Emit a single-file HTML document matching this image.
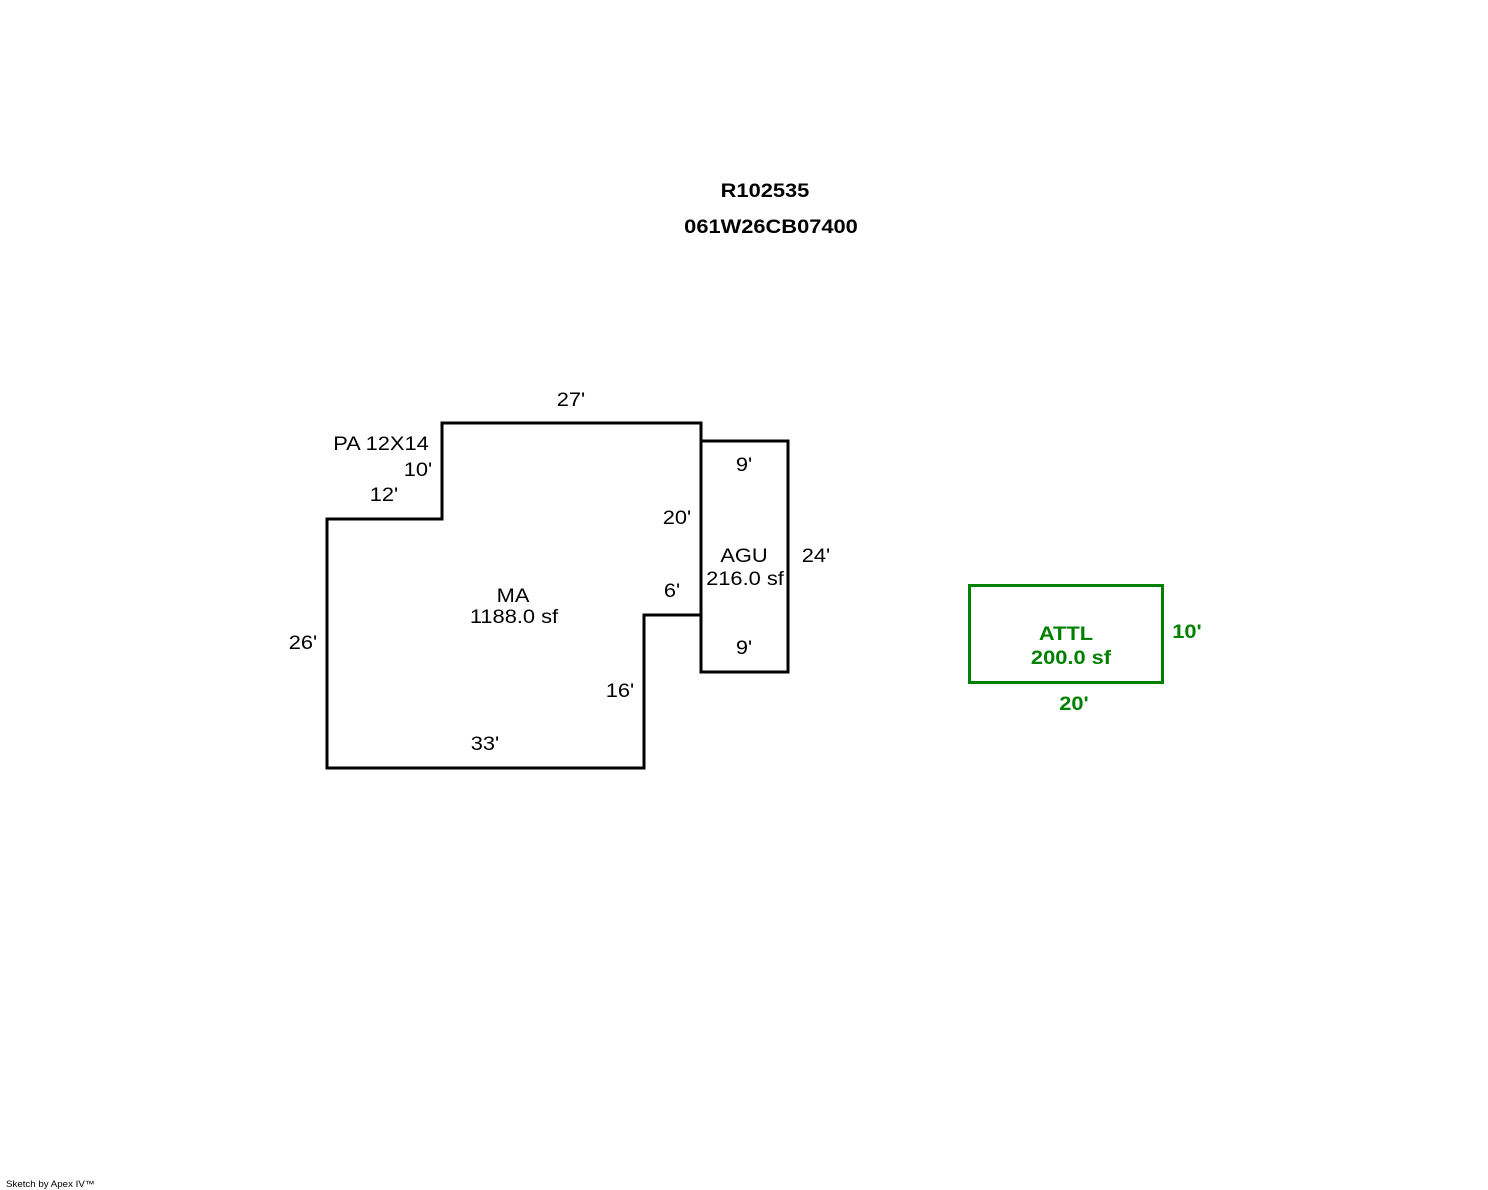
<!DOCTYPE html>
<html><head><meta charset="utf-8"><style>
html,body{margin:0;padding:0;background:#fff;}
svg{display:block;}
text{font-family:"Liberation Sans",Arial,sans-serif;}
</style></head><body>
<svg width="1488" height="1190" viewBox="0 0 1488 1190" xmlns="http://www.w3.org/2000/svg">
<rect width="1488" height="1190" fill="#fff"/>
<polygon points="327,519 442,519 442,423 701,423 701,615 644,615 644,768 327,768" fill="none" stroke="#000" stroke-width="3"/>
<rect x="701" y="441" width="87" height="231" fill="none" stroke="#000" stroke-width="3"/>
<rect x="969.5" y="585.5" width="193" height="97" fill="none" stroke="#008000" stroke-width="3"/>
<g font-size="19" font-weight="bold" fill="#000" text-anchor="middle">
<text transform="translate(765,197) scale(1.15,1)">R102535</text>
<text transform="translate(771,233) scale(1.15,1)">061W26CB07400</text>
</g>
<g font-size="19" fill="#000" text-anchor="middle">
<text transform="translate(571,406) scale(1.15,1)">27'</text>
<text transform="translate(381,450) scale(1.15,1)">PA 12X14</text>
<text transform="translate(418,476) scale(1.15,1)">10'</text>
<text transform="translate(384,501) scale(1.15,1)">12'</text>
<text transform="translate(677,524) scale(1.15,1)">20'</text>
<text transform="translate(744,471) scale(1.15,1)">9'</text>
<text transform="translate(744,562) scale(1.15,1)">AGU</text>
<text transform="translate(745,585) scale(1.15,1)">216.0 sf</text>
<text transform="translate(816,562) scale(1.15,1)">24'</text>
<text transform="translate(672,597) scale(1.15,1)">6'</text>
<text transform="translate(744,654) scale(1.15,1)">9'</text>
<text transform="translate(513,602) scale(1.15,1)">MA</text>
<text transform="translate(514,623) scale(1.15,1)">1188.0 sf</text>
<text transform="translate(303,649) scale(1.15,1)">26'</text>
<text transform="translate(620,697) scale(1.15,1)">16'</text>
<text transform="translate(485,750) scale(1.15,1)">33'</text>
</g>
<g font-size="19" font-weight="bold" fill="#008000" text-anchor="middle">
<text transform="translate(1066,640) scale(1.15,1)">ATTL</text>
<text transform="translate(1071,664) scale(1.15,1)">200.0 sf</text>
<text transform="translate(1187,638) scale(1.15,1)">10'</text>
<text transform="translate(1074,710) scale(1.15,1)">20'</text>
</g>
<text x="6" y="1187" font-size="9" transform="translate(6,0) scale(1.08,1) translate(-6,0)">Sketch by Apex IV™</text>
</svg>
</body></html>
